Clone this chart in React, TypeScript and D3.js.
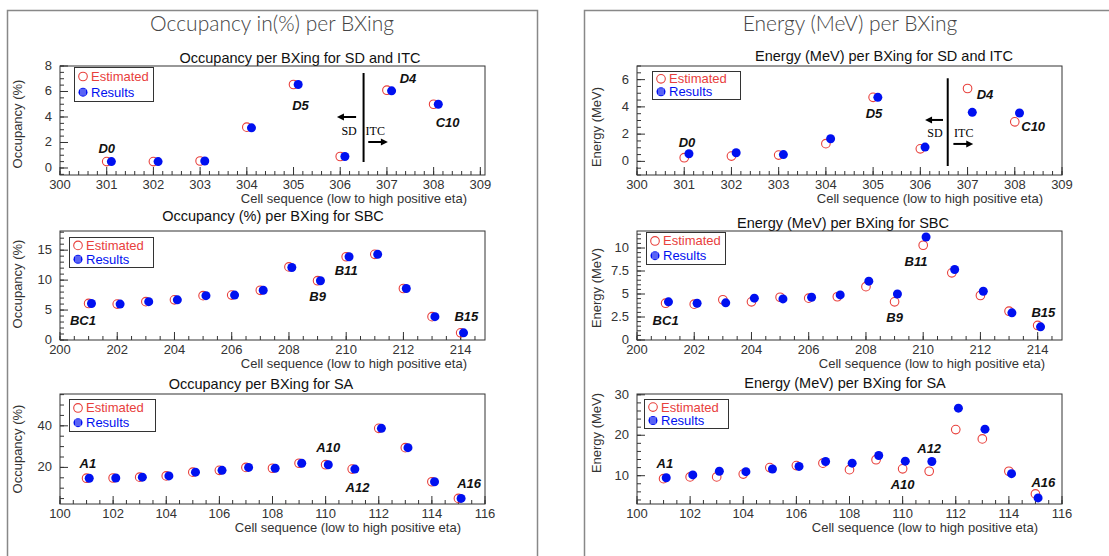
import * as d3 from "d3";

// ---- data ----
const sdCells = [301, 302, 303, 304, 305, 306, 307, 308];
const sbcCells = [201, 202, 203, 204, 205, 206, 207, 208, 209, 210, 211, 212, 213, 214];
const saCells = [101, 102, 103, 104, 105, 106, 107, 108, 109, 110, 111, 112, 113, 114, 115];

const occSdEst = [0.5, 0.5, 0.55, 3.2, 6.55, 0.9, 6.1, 5.0];
const occSdRes = [0.5, 0.5, 0.55, 3.15, 6.55, 0.9, 6.05, 5.0];
const occSbcEst = [6.1, 6.0, 6.4, 6.7, 7.4, 7.5, 8.3, 12.2, 9.9, 13.9, 14.3, 8.6, 3.9, 1.2];
const occSbcRes = [6.1, 6.0, 6.4, 6.7, 7.4, 7.5, 8.3, 12.1, 9.9, 13.9, 14.3, 8.6, 3.9, 1.2];
const occSaEst = [14.8, 14.9, 15.3, 15.9, 17.7, 18.6, 20.0, 19.6, 22.0, 21.3, 19.2, 38.8, 29.5, 13.1, 5.1];
const occSaRes = [14.8, 14.9, 15.3, 15.9, 17.7, 18.6, 20.0, 19.6, 22.0, 21.3, 19.2, 38.8, 29.5, 13.1, 5.1];

const enSdEst = [0.27, 0.39, 0.46, 1.3, 4.7, 0.92, 5.35, 2.9];
const enSdRes = [0.56, 0.63, 0.5, 1.66, 4.7, 1.05, 3.6, 3.55];
const enSbcEst = [4.0, 3.9, 4.37, 4.15, 4.65, 4.55, 4.7, 5.8, 4.15, 10.3, 7.3, 4.84, 3.13, 1.58];
const enSbcRes = [4.15, 4.0, 4.04, 4.55, 4.47, 4.65, 4.9, 6.4, 5.0, 11.2, 7.66, 5.3, 2.95, 1.43];
const enSaEst = [9.26, 9.7, 9.7, 10.4, 12.0, 12.5, 13.1, 11.5, 13.95, 11.7, 11.1, 21.4, 19.1, 11.1, 5.5];
const enSaRes = [9.5, 10.2, 11.1, 11.0, 11.65, 12.3, 13.5, 13.1, 15.0, 13.6, 13.5, 26.7, 21.5, 10.5, 4.5];

// cell names [text, x, y] in data units
const occSdNames: [string, number, number][] = [["D0", 301.0, 1.2], ["D5", 305.15, 4.55], ["D4", 307.45, 6.67], ["C10", 308.3, 3.2]];
const occSbcNames: [string, number, number][] = [["BC1", 200.8, 2.5], ["B9", 209.0, 6.5], ["B11", 210.0, 10.8], ["B15", 214.2, 3.2]];
const occSaNames: [string, number, number][] = [["A1", 101.05, 19.7], ["A10", 110.1, 27.4], ["A12", 111.2, 8.2], ["A16", 115.4, 10.1]];
const enSdNames: [string, number, number][] = [["D0", 301.06, 1.06], ["D5", 305.02, 3.19], ["D4", 307.37, 4.59], ["C10", 308.39, 2.24]];
const enSbcNames: [string, number, number][] = [["BC1", 201.0, 1.63], ["B9", 209.0, 1.96], ["B11", 209.75, 8.0], ["B15", 214.2, 2.5]];
const enSaNames: [string, number, number][] = [["A1", 101.05, 11.9], ["A10", 110.0, 6.7], ["A12", 111.0, 15.6], ["A16", 115.3, 7.2]];

const xTitle = "Cell sequence (low to high positive eta)";
const RED = "#e8403c";
const BLUE = "#0010f0";
const FONT = "'Liberation Sans', Arial, sans-serif";

type Divider = { x: number; y0: number; y1: number; sdArrow: [number, number, number]; itcArrow: [number, number, number]; sdText: [number, number]; itcText: [number, number] };

interface PlotCfg {
  title: string; titleX: number; titleY: number;
  frame: [number, number, number, number];
  xDomain: [number, number]; yDomain: [number, number];
  xMajor: number; xMinor: number; yMajor: number; yMinor: number;
  yTitle: string; yTitleX: number; yTitleY: number;
  xTitleX: number; xTitleY: number;
  cells: number[]; est: number[]; res: number[];
  names: [string, number, number][];
  legend: [number, number, number, number];
  divider?: Divider;
}

function steps(d0: number, d1: number, step: number) {
  const out: number[] = [];
  const lo = Math.min(d0, d1), hi = Math.max(d0, d1);
  for (let i = Math.ceil(lo / step - 1e-9); i * step <= hi + 1e-9; i++) out.push(+(i * step).toFixed(6));
  return out;
}

function Arrow({ x0, x1, y }: { x0: number; x1: number; y: number }) {
  const dir = Math.sign(x1 - x0);
  return (
    <g>
      <line x1={x0} x2={x1 - dir * 5} y1={y} y2={y} stroke="#000" strokeWidth={2} />
      <path d={`M${x1},${y} L${x1 - dir * 7},${y - 3.5} L${x1 - dir * 7},${y + 3.5} Z`} fill="#000" />
    </g>
  );
}

function Plot({ c }: { c: PlotCfg }) {
  const [fx0, fx1, fy0, fy1] = c.frame;
  const x = d3.scaleLinear().domain(c.xDomain).range([fx0, fx1]);
  const y = d3.scaleLinear().domain(c.yDomain).range([fy1, fy0]);
  const fmt = d3.format("~g");
  const xMaj = steps(c.xDomain[0], c.xDomain[1], c.xMajor);
  const xMin = steps(c.xDomain[0], c.xDomain[1], c.xMinor);
  const yMaj = steps(c.yDomain[0], c.yDomain[1], c.yMajor);
  const yMin = steps(c.yDomain[0], c.yDomain[1], c.yMinor);
  const [lx, ly, lw, lh] = c.legend;
  const d = c.divider;
  return (
    <g fontFamily={FONT}>
      <text x={c.titleX} y={c.titleY} textAnchor="middle" fontSize={14.5} fill="#111">{c.title}</text>
      <rect x={fx0} y={fy0} width={fx1 - fx0} height={fy1 - fy0} fill="none" stroke="#333" strokeWidth={1} />
      {xMin.map((v, i) => (
        <line key={"xm" + i} x1={x(v)} x2={x(v)} y1={fy1} y2={fy1 - 4} stroke="#333" />
      ))}
      {xMaj.map((v, i) => (
        <g key={"xM" + i}>
          <line x1={x(v)} x2={x(v)} y1={fy1} y2={fy1 - 8} stroke="#333" />
          <text x={x(v)} y={fy1 + 14} textAnchor="middle" fontSize={13} fill="#333">{fmt(v)}</text>
        </g>
      ))}
      {yMin.map((v, i) => (
        <line key={"ym" + i} x1={fx0} x2={fx0 + 4} y1={y(v)} y2={y(v)} stroke="#333" />
      ))}
      {yMaj.map((v, i) => (
        <g key={"yM" + i}>
          <line x1={fx0} x2={fx0 + 8} y1={y(v)} y2={y(v)} stroke="#333" />
          <text x={fx0 - 8} y={y(v) + 4} textAnchor="end" fontSize={13} fill="#333">{fmt(v)}</text>
        </g>
      ))}
      <text x={c.xTitleX} y={c.xTitleY} textAnchor="end" fontSize={13} fill="#333">{xTitle}</text>
      <text transform={`translate(${c.yTitleX},${c.yTitleY}) rotate(-90)`} textAnchor="middle" fontSize={13} fill="#333">{c.yTitle}</text>

      {d && (
        <g>
          <line x1={x(d.x)} x2={x(d.x)} y1={y(d.y0)} y2={y(d.y1)} stroke="#000" strokeWidth={2} />
          <Arrow x0={x(d.sdArrow[1])} x1={x(d.sdArrow[0])} y={y(d.sdArrow[2])} />
          <Arrow x0={x(d.itcArrow[0])} x1={x(d.itcArrow[1])} y={y(d.itcArrow[2])} />
          <text x={x(d.sdText[0])} y={y(d.sdText[1])} textAnchor="middle" fontSize={12} fontFamily="'Liberation Serif', serif">SD</text>
          <text x={x(d.itcText[0])} y={y(d.itcText[1])} textAnchor="middle" fontSize={12} fontFamily="'Liberation Serif', serif">ITC</text>
        </g>
      )}

      {c.cells.map((v, i) => (
        <circle key={"e" + i} cx={x(v)} cy={y(c.est[i])} r={4.3} fill="none" stroke={RED} strokeWidth={1.1} />
      ))}
      {c.cells.map((v, i) => (
        <circle key={"r" + i} cx={x(v + 0.1)} cy={y(c.res[i])} r={4.5} fill={BLUE} />
      ))}
      {c.names.map(([t, vx, vy], i) => (
        <text key={"n" + i} x={x(vx)} y={y(vy)} textAnchor="middle" fontSize={13} fontWeight="bold" fontStyle="italic" fill="#111">{t}</text>
      ))}

      <g transform={`translate(${fx0 + lx},${fy0 + ly})`}>
        <rect x={0.5} y={0.5} width={lw} height={lh} fill="#fff" stroke="#333" />
        <circle cx={9} cy={lh * 0.28} r={4.3} fill="none" stroke={RED} strokeWidth={1.1} />
        <text x={17} y={lh * 0.28 + 4.5} fontSize={13} fill={RED}>Estimated</text>
        <circle cx={9} cy={lh * 0.74} r={4.5} fill={BLUE} />
        {[-2, 0, 2].map((o) => (
          <line key={o} x1={9 + o} x2={9 + o} y1={lh * 0.74 - 3.5} y2={lh * 0.74 + 3.5} stroke="#fff" strokeWidth={0.7} />
        ))}
        <text x={17} y={lh * 0.74 + 4.5} fontSize={13} fill={BLUE}>Results</text>
      </g>
    </g>
  );
}

const plots: PlotCfg[] = [
  {
    title: "Occupancy per BXing for SD and ITC", titleX: 300, titleY: 63,
    frame: [60, 485, 66, 175], xDomain: [300, 309.1], yDomain: [-0.55, 8],
    xMajor: 1, xMinor: 0.2, yMajor: 2, yMinor: 0.5,
    yTitle: "Occupancy (%)", yTitleX: 22, yTitleY: 124, xTitleX: 467, xTitleY: 203,
    cells: sdCells, est: occSdEst, res: occSdRes, names: occSdNames, legend: [14, 1, 79, 34],
    divider: { x: 306.5, y0: 7.45, y1: 0.47, sdArrow: [305.93, 306.34, 4.0], itcArrow: [306.6, 307.02, 2.04], sdText: [306.19, 2.6], itcText: [306.75, 2.6] },
  },
  {
    title: "Occupancy (%) per BXing for SBC", titleX: 273, titleY: 221,
    frame: [60, 485, 231, 340], xDomain: [200, 214.85], yDomain: [0, 18.2],
    xMajor: 2, xMinor: 0.5, yMajor: 5, yMinor: 1,
    yTitle: "Occupancy (%)", yTitleX: 22, yTitleY: 284, xTitleX: 467, xTitleY: 368,
    cells: sbcCells, est: occSbcEst, res: occSbcRes, names: occSbcNames, legend: [9, 6, 84, 30],
  },
  {
    title: "Occupancy per BXing for SA", titleX: 261, titleY: 389,
    frame: [60, 485, 394, 504], xDomain: [100, 116], yDomain: [2.4, 55.3],
    xMajor: 2, xMinor: 0.5, yMajor: 20, yMinor: 5,
    yTitle: "Occupancy (%)", yTitleX: 22, yTitleY: 449, xTitleX: 461, xTitleY: 532,
    cells: saCells, est: occSaEst, res: occSaRes, names: occSaNames, legend: [9, 5, 86, 32],
  },
  {
    title: "Energy (MeV) per BXing for SD and ITC", titleX: 884, titleY: 61,
    frame: [637, 1062, 66, 175], xDomain: [300, 309], yDomain: [-1, 7],
    xMajor: 1, xMinor: 0.2, yMajor: 2, yMinor: 0.5,
    yTitle: "Energy (MeV)", yTitleX: 601, yTitleY: 127, xTitleX: 1043, xTitleY: 203,
    cells: sdCells, est: enSdEst, res: enSdRes, names: enSdNames, legend: [15, 5, 88, 28],
    divider: { x: 306.58, y0: 6.1, y1: -0.34, sdArrow: [306.1, 306.48, 3.04], itcArrow: [306.7, 307.12, 1.28], sdText: [306.31, 1.8], itcText: [306.92, 1.8] },
  },
  {
    title: "Energy (MeV) per BXing for SBC", titleX: 843, titleY: 228,
    frame: [637, 1062, 231, 340], xDomain: [200, 214.85], yDomain: [0, 11.85],
    xMajor: 2, xMinor: 0.5, yMajor: 2.5, yMinor: 0.5,
    yTitle: "Energy (MeV)", yTitleX: 601, yTitleY: 288, xTitleX: 1045, xTitleY: 368,
    cells: sbcCells, est: enSbcEst, res: enSbcRes, names: enSbcNames, legend: [9, 1, 79, 32],
  },
  {
    title: "Energy (MeV) per BXing for SA", titleX: 845, titleY: 388,
    frame: [637, 1062, 394, 504], xDomain: [100, 116], yDomain: [3, 30.2],
    xMajor: 2, xMinor: 0.5, yMajor: 10, yMinor: 2,
    yTitle: "Energy (MeV)", yTitleX: 601, yTitleY: 433, xTitleX: 1038, xTitleY: 532,
    cells: saCells, est: enSaEst, res: enSaRes, names: enSaNames, legend: [7, 5, 84, 29],
  },
];

export default function App() {
  return (
    <svg width={1109} height={556} style={{ position: "absolute", left: 0, top: 0, background: "#fff" }}>
      <rect x={0} y={0} width={1109} height={556} fill="#fff" />
      <rect x={7.5} y={10.5} width={530} height={600} fill="none" stroke="#888" strokeWidth={1.5} />
      <rect x={584.5} y={10.5} width={600} height={600} fill="none" stroke="#888" strokeWidth={1.5} />
      <text x={272} y={31} textAnchor="middle" fontSize={21} fontFamily="Lato, 'Open Sans', sans-serif" fontWeight={300} fill="#444">Occupancy in(%) per BXing</text>
      <text x={850} y={31} textAnchor="middle" fontSize={21} fontFamily="Lato, 'Open Sans', sans-serif" fontWeight={300} fill="#444">Energy (MeV) per BXing</text>
      {plots.map((p, i) => (
        <Plot key={i} c={p} />
      ))}
    </svg>
  );
}
